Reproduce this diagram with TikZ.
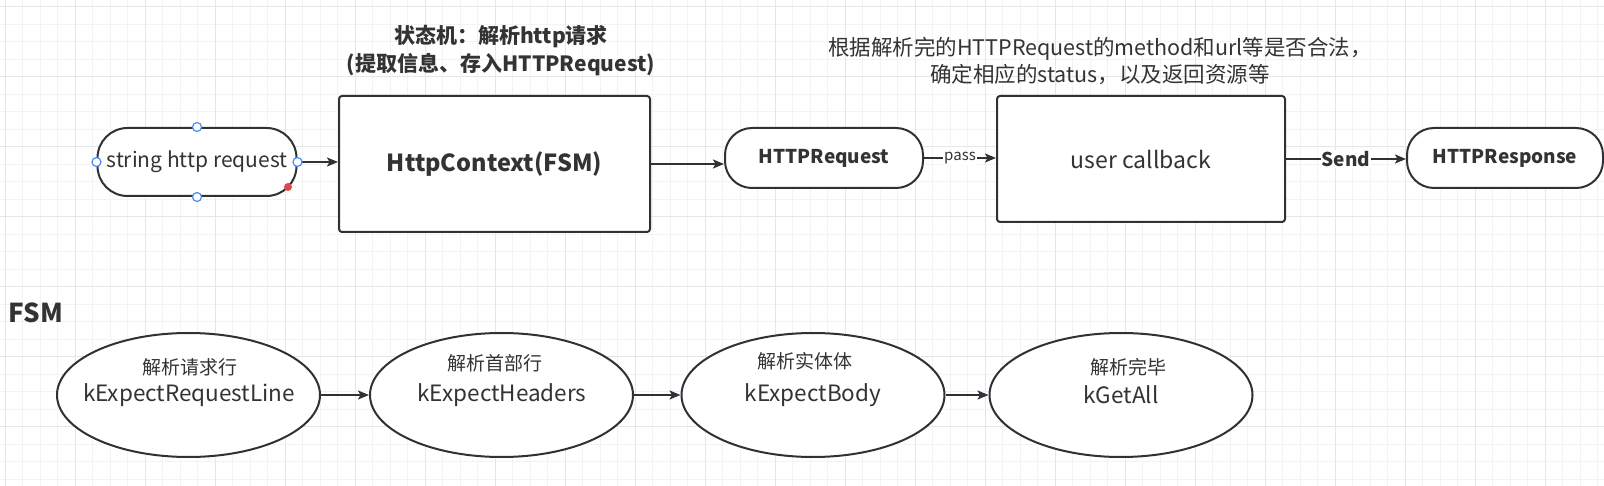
\documentclass[tikz,border=0pt]{standalone}
\usepackage{fontspec}
\setmainfont{Noto Sans CJK SC}
\usetikzlibrary{arrows.meta,shapes.geometric}
\definecolor{ink}{HTML}{2E3236}
\definecolor{txt}{HTML}{333333}
\definecolor{gridlo}{HTML}{F3F3F3}
\definecolor{gridhi}{HTML}{E6E6E6}
\definecolor{handle}{HTML}{4A8CF7}
\definecolor{hot}{HTML}{E0474C}
\newcommand\sz[2]{\fontsize{#1}{#2}\selectfont}

\begin{document}
\begin{tikzpicture}[x = 1pt, y = -1pt, line width = 2pt, draw = ink, text = txt,
    arr/.style = {-{Stealth[length = 11pt, width = 9pt, inset = 2.5pt]}},
    pill/.style = {draw, rounded corners = 27pt, inner sep = 0pt},
    box/.style = {draw, rounded corners = 3pt, inner sep = 0pt},
    state/.style = {draw, shape = ellipse, minimum width = 263pt, minimum height = 124pt, inner sep = 0pt},
    dot/.style = {shape = circle, draw = handle, fill = white, line width = 1.2pt, minimum size = 9pt, inner sep = 0pt}]
    \useasboundingbox (0,0) rectangle (1604,486);
    % canvas grid
    \foreach \i in {0,...,91} \draw[gridlo, line width = 1pt] ({5+17.5*\i},0) -- ({5+17.5*\i},486);
    \foreach \i in {0,...,27} \draw[gridlo, line width = 1pt] (0,{6.7+17.5*\i}) -- (1604,{6.7+17.5*\i});
    \foreach \i in {0,...,22} \draw[gridhi, line width = 1pt] ({5+70*\i},0) -- ({5+70*\i},486);
    \foreach \i in {0,...,6} \draw[gridhi, line width = 1pt] (0,{6.7+70*\i}) -- (1604,{6.7+70*\i});

    % top row
    \node[pill, fill = white, minimum width = 199pt, minimum height = 68pt, rounded corners = 30pt, font = \sz{21}{26}] (Str) at (197,162) {string http request};
    \node[box, fill = white, minimum width = 311pt, minimum height = 136pt, font = \sz{23.5}{28}\bfseries] (Ctx) at (494.5,164) {HttpContext(FSM)};
    \node[align = center, font = \sz{21}{28}\bfseries] (Title) at (501,51) {状态机：解析http请求\\(提取信息、存入HTTPRequest)};
    \node[pill, fill = white, minimum width = 198pt, minimum height = 60pt, font = \sz{19}{24}\bfseries] (Req) at (824,158) {HTTPRequest};
    \node[box, fill = white, minimum width = 288pt, minimum height = 126pt, font = \sz{23}{28}] (Cb) at (1141,159) {user callback};
    \node[align = center, font = \sz{21.5}{27}] (Note) at (1100,61.5) {根据解析完的HTTPRequest的method和url等是否合法，\\确定相应的status，以及返回资源等};
    \node[pill, fill = white, minimum width = 196pt, minimum height = 60pt, font = \sz{19}{24}\bfseries] (Resp) at (1505,158) {HTTPResponse};

    \draw[arr] (Str.east) -- (Str.east -| Ctx.west);
    \draw[arr] (Ctx.east) -- (Ctx.east -| Req.west);
    \draw[arr] (Req.east) -- node[fill = white, inner sep = 1pt, font = \sz{15}{18}] (Pass) {pass} (Req.east -| Cb.west);
    \draw[arr] (Cb.east) -- node[fill = white, inner sep = 1pt, font = \sz{19}{24}\bfseries] (Send) {Send} (Cb.east -| Resp.west);

    % selection handles
    \foreach \a in {north, south, east, west} \node[dot] at (Str.\a) {};
    \node[shape = circle, fill = hot, minimum size = 8pt, inner sep = 0pt] (Hot) at (288,187) {};

    % FSM row
    \node[font = \sz{26}{30}\bfseries] (FSM) at (36,313) {FSM};
    \node[state, fill = white] (L1) at (188.5,395) {};
    \node[state, fill = white] (L2) at (501.5,395) {};
    \node[state, fill = white] (L3) at (813,395) {};
    \node[state, fill = white] (L4) at (1121,395) {};
    \draw[arr] (L1) -- (L2);
    \draw[arr] (L2) -- (L3);
    \draw[arr] (L3) -- (L4);

    \node[font = \sz{19}{24}] (C1) at (190,367) {解析请求行};
    \node[font = \sz{22.5}{27}] (K1) at (189,395) {kExpectRequestLine};
    \node[font = \sz{19}{24}] (C2) at (495,363) {解析首部行};
    \node[font = \sz{22.5}{27}] (K2) at (502,395) {kExpectHeaders};
    \node[font = \sz{19}{24}] (C3) at (805,361) {解析实体体};
    \node[font = \sz{22.5}{27}] (K3) at (813,395) {kExpectBody};
    \node[font = \sz{19}{24}] (C4) at (1128,367) {解析完毕};
    \node[font = \sz{22.5}{27}] (K4) at (1121,395) {kGetAll};
\end{tikzpicture}
\end{document}
